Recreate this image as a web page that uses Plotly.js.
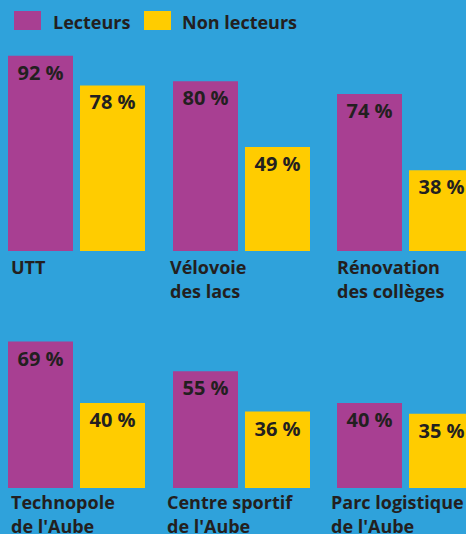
<!DOCTYPE html>
<html>
<head>
<meta charset="utf-8">
<script src="https://cdn.plot.ly/plotly-3.0.1.min.js"></script>
<style>html,body{margin:0;padding:0;background:#2fa2db;}#chart{width:466px;height:534px;}</style>
</head>
<body>
<div id="chart"></div>
<script>
// ---- data ----
const seriesNames = ['Lecteurs', 'Non lecteurs'];
const categories = ['UTT', 'Vélovoie\ndes lacs', 'Rénovation\ndes collèges', 'Technopole\nde l\'Aube', 'Centre sportif\nde l\'Aube', 'Parc logistique\nde l\'Aube'];
const lecteurs = [92, 80, 74, 69, 55, 40];
const nonLecteurs = [78, 49, 38, 40, 36, 35];

// ---- style / layout ----
const W = 466, H = 534;
const BG = '#2fa2db', PURPLE = '#a83f92', YELLOW = '#ffcc00', INK = '#231f20';
const FONT = 'Open Sans, sans-serif';
const colLeft = [8, 173, 337];          // left edge of first bar in each column (px)
const rowBottom = [251, 488];           // baseline of bars in each row (px)
const pxPerPct = 2.123;
const groupW = 144;                     // px width of one category group
const labelX = [10, 169, 336, 10, 166, 330];
const labelY1 = [266.5, 502];           // cap centre of first label line per row
const lineStep = 24;

const traces = [];
const layout = {
  width: W, height: H,
  margin: {l: 0, r: 0, t: 0, b: 0},
  paper_bgcolor: BG, plot_bgcolor: BG,
  barmode: 'group', bargap: 0, bargroupgap: 7 / 72,
  showlegend: false,
  font: {family: FONT, color: INK},
  shapes: [], annotations: []
};

categories.forEach((cat, i) => {
  const n = i + 1, col = i % 3, row = Math.floor(i / 3);
  const x0 = colLeft[col] - 3.5;
  const x1 = Math.min(x0 + groupW, W);
  const ax = {
    domain: [x0 / W, x1 / W],
    range: [-0.5, -0.5 + (x1 - x0) / groupW],
    showgrid: false, zeroline: false, showticklabels: false, showline: false,
    ticks: '', fixedrange: true, type: 'category'
  };
  const yb = H - rowBottom[row];
  const ay = {
    domain: [yb / H, (yb + 100 * pxPerPct) / H],
    range: [0, 100],
    showgrid: false, zeroline: false, showticklabels: false, showline: false,
    ticks: '', fixedrange: true
  };
  if (n === 1) { ax.anchor = 'y'; ay.anchor = 'x'; }
  else { ax.anchor = 'y' + n; ay.anchor = 'x' + n; }
  layout['xaxis' + (n === 1 ? '' : n)] = ax;
  layout['yaxis' + (n === 1 ? '' : n)] = ay;

  [[lecteurs, PURPLE, seriesNames[0]], [nonLecteurs, YELLOW, seriesNames[1]]].forEach(([vals, color, name]) => {
    traces.push({
      type: 'bar', name: name,
      x: [cat], y: [vals[i]],
      xaxis: n === 1 ? 'x' : 'x' + n, yaxis: n === 1 ? 'y' : 'y' + n,
      marker: {color: color, line: {width: 0}},
      text: [vals[i] + ' %'],
      textposition: 'inside', insidetextanchor: 'end', textangle: 0,
      constraintext: 'none',
      textfont: {family: FONT, size: 20, color: INK, weight: 700},
      hoverinfo: 'skip', showlegend: false
    });
  });

  cat.split('\n').forEach((line, k) => {
    layout.annotations.push({
      text: line, showarrow: false,
      xref: 'paper', yref: 'paper',
      x: labelX[i] / W, y: 1 - (labelY1[row] + k * lineStep) / H,
      xanchor: 'left', yanchor: 'middle', borderpad: 0,
      font: {family: FONT, size: 18, color: INK, weight: 700}
    });
  });
});

// legend
const legendSw = [[14, 41], [144, 171]];
const legendTx = [52, 181];
[PURPLE, YELLOW].forEach((c, k) => {
  layout.shapes.push({type: 'rect', xref: 'paper', yref: 'paper',
    x0: legendSw[k][0] / W, x1: legendSw[k][1] / W, y0: 1 - 30 / H, y1: 1 - 11 / H,
    fillcolor: c, line: {width: 0}});
  layout.annotations.push({text: seriesNames[k], showarrow: false,
    xref: 'paper', yref: 'paper', x: legendTx[k] / W, y: 1 - 22 / H,
    xanchor: 'left', yanchor: 'middle', borderpad: 0,
    font: {family: FONT, size: 18, color: INK, weight: 700}});
});

Plotly.newPlot('chart', traces, layout, {staticPlot: true, displayModeBar: false});
</script>
</body>
</html>
